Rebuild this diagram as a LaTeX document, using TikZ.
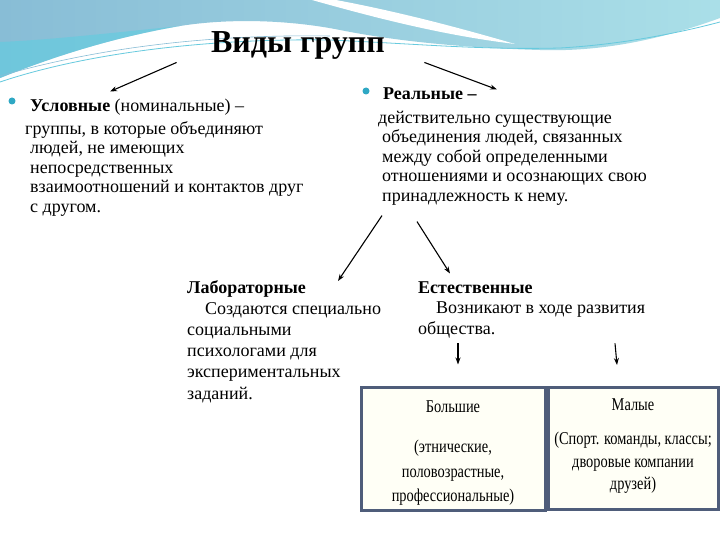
\documentclass[tikz,border=0pt]{standalone}
\usepackage{fontspec}
\setmainfont{Liberation Serif}
\newfontfamily\serifbody{Liberation Serif}
\newfontfamily\narrowfont[FakeStretch=0.8]{Liberation Serif}
\usetikzlibrary{arrows.meta, positioning}

\definecolor{skyband}{HTML}{88BDD6}
\definecolor{cyanband}{HTML}{AADFE8}
\definecolor{tealglow}{HTML}{5FCDE0}
\definecolor{bulletteal}{HTML}{2FA8C4}
\definecolor{frameslate}{HTML}{4F5D7A}
\definecolor{boxfill}{HTML}{FFFFF6}

\begin{document}
\begin{tikzpicture}[x=1pt, y=-1pt,
    txt/.style={anchor=north west, inner sep=0pt, align=left,
        font=\serifbody\fontsize{18}{19.5}\selectfont},
    dot/.style={circle, fill=bulletteal, inner sep=0pt, minimum size=7pt},
    groupbox/.style={rectangle, draw=frameslate, line width=3pt, fill=boxfill},
    boxtxt/.style={anchor=north, inner sep=0pt, align=center,
        font=\narrowfont\fontsize{18}{24.5}\selectfont},
    arr/.style={-{Stealth[length=7pt, width=5pt]}, line width=1.1pt, black},
]
\useasboundingbox (0,0) rectangle (720,540);
\fill[white] (0,0) rectangle (720,540);

% top wave
\shade[left color=skyband, right color=cyanband]
    (0,0) -- (720,0) -- (720,18) .. controls (660,40) and (600,52) .. (540,50)
    .. controls (470,48) and (400,42) .. (340,30)
    .. controls (290,20) and (230,18) .. (180,26)
    .. controls (110,38) and (50,58) .. (0,78) -- cycle;
\fill[tealglow, opacity=0.6] (0,42) .. controls (50,40) and (120,32) .. (180,26)
    .. controls (110,38) and (50,58) .. (0,78) -- cycle;
\fill[white] (312,0) -- (336,0) .. controls (400,12) and (460,28) .. (515,44)
    .. controls (450,36) and (390,22) .. cycle;
\draw[tealglow!80!skyband, line width=0.8pt] (0,82) .. controls (80,55) and (200,38) .. (330,40)
    .. controls (420,44) and (480,50) .. (560,48) .. controls (630,44) and (690,30) .. (720,22);
\draw[skyband, line width=0.6pt] (0,76) .. controls (90,50) and (200,34) .. (330,36);

\node[font=\serifbody\bfseries\fontsize{32}{36}\selectfont] (title) at (298,45) {Виды групп};

\node[dot] (dotusl) at (12,101) {};
\node[dot] (dotreal) at (366,91) {};

\node[txt] (usl) at (25,98.5) {\hspace*{5pt}\textbf{Условные} (номинальные) –\\[3.5pt]
    группы, в которые объединяют\\
    \hspace*{5pt}людей, не имеющих\\
    \hspace*{5pt}непосредственных\\
    \hspace*{5pt}взаимоотношений и контактов друг\\
    \hspace*{5pt}с другом.};

\node[txt] (real) at (378,87.5) {\hspace*{5pt}\textbf{Реальные –}\\[4.5pt]
    действительно существующие\\
    \hspace*{4pt}объединения людей, связанных\\
    \hspace*{4pt}между собой определенными\\
    \hspace*{4pt}отношениями и осознающих свою\\
    \hspace*{4pt}принадлежность к нему.};

\node[txt, font=\serifbody\fontsize{18}{21.2}\selectfont] (lab) at (187,280) {\textbf{Лабораторные}\\
    \hspace*{18pt}Создаются специально\\
    социальными\\
    психологами для\\
    экспериментальных\\
    заданий.};

\node[txt, font=\serifbody\fontsize{18}{20.5}\selectfont] (nat) at (418,281.5) {\textbf{Естественные}\\
    \hspace*{18pt}Возникают в ходе развития\\
    общества.};

\node[groupbox, minimum width=184pt, minimum height=123pt] (big) at (453,448.5) {};
\node[groupbox, minimum width=170pt, minimum height=122pt, right=0pt of big] (small) {};

\begin{scope}
\clip ([yshift=6pt]big.south west) rectangle (big.north east);
\node[boxtxt] (bigtxt) at ([yshift=-15pt]big.north) {Большие\\[16pt]
    (этнические,\\половозрастные,\\профессиональные)};
\end{scope}
\node[boxtxt, font=\narrowfont\fontsize{18}{22.5}\selectfont] (smalltxt)
    at ([yshift=-12.5pt]small.north) {Малые\\[12pt]
    (Спорт. команды, классы;\\дворовые компании\\друзей)};

\draw[arr] ([xshift=-31pt]title.south west) -- ([xshift=85pt,yshift=7pt]usl.north west);
\draw[arr] ([xshift=36pt]title.south east) -- ([xshift=119pt,yshift=-2pt]real.north west);
\draw[arr] ([xshift=4pt,yshift=-10pt]real.south west) -- ([xshift=151pt,yshift=-1pt]lab.north west);
\draw[arr] ([xshift=39pt,yshift=-16pt]real.south west) -- ([xshift=32pt,yshift=8pt]nat.north west);
\draw[arr] ([xshift=40pt,yshift=-5pt]nat.south west) -- ([xshift=5pt,yshift=21pt]big.north);
\draw[arr] ([xshift=197pt,yshift=-5pt]nat.south west) -- ([xshift=-16pt,yshift=21pt]small.north);
\end{tikzpicture}
\end{document}
